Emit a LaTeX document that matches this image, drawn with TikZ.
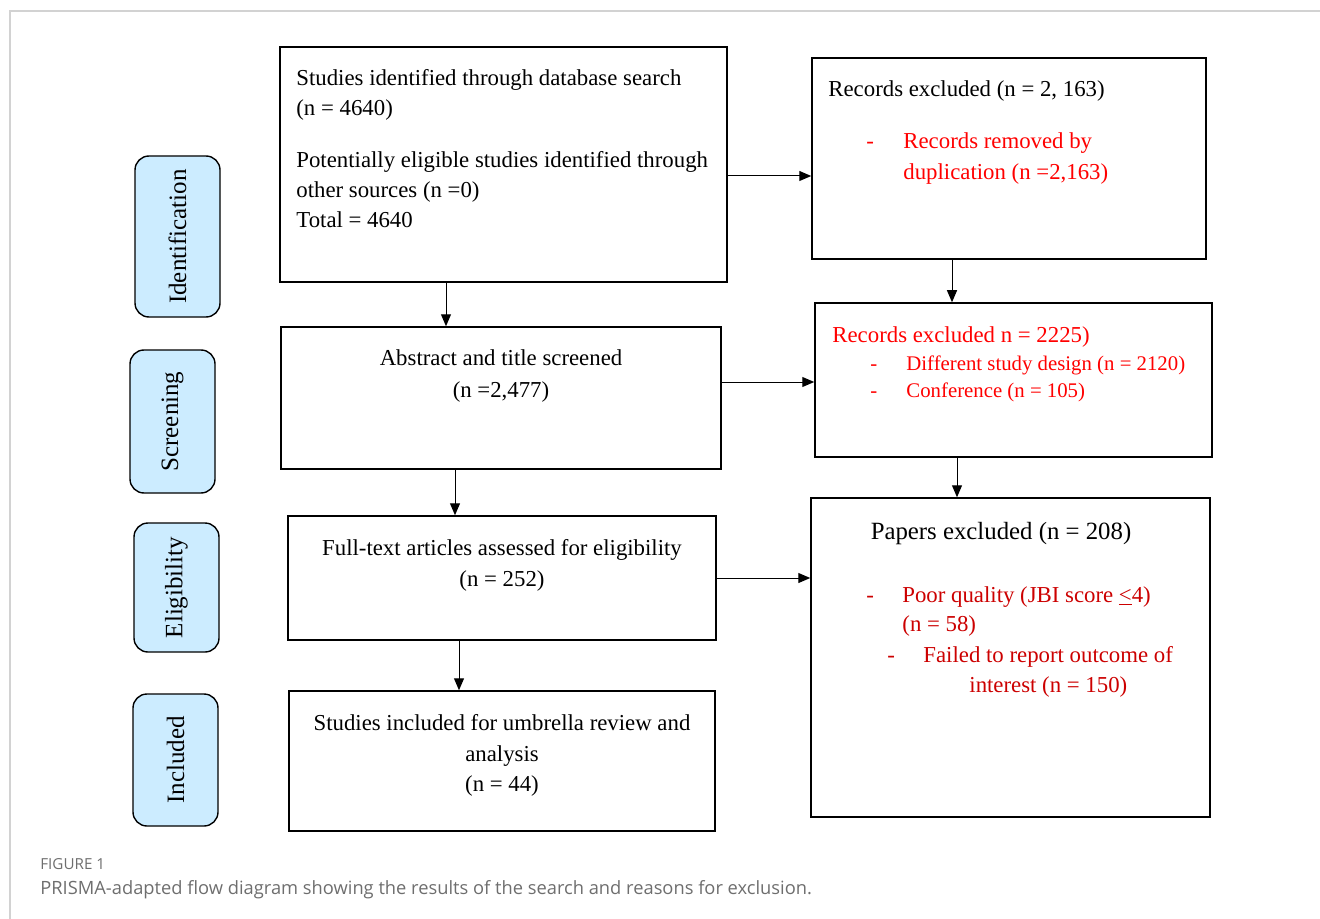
\documentclass[tikz,border=0pt]{standalone}
\usepackage{fontspec}
\setmainfont{Liberation Serif}
\newfontfamily\capfont{Open Sans}
\usetikzlibrary{arrows.meta,fit}
\definecolor{sidefill}{RGB}{204,236,255}
\definecolor{redA}{RGB}{255,0,0}
\definecolor{redB}{RGB}{204,0,0}
\definecolor{framegray}{RGB}{210,210,210}
\definecolor{capgray}{RGB}{110,110,110}
\begin{document}
\begin{tikzpicture}[x=0.5pt,y=-0.5pt,
  box/.style={draw=black,line width=0.75pt,inner sep=0pt},
  side/.style={draw=black,line width=0.7pt,fill=sidefill,rounded corners=7pt,rotate=90,inner sep=0pt,font=\fontsize{12.5}{14}\selectfont},
  txt/.style={inner sep=0pt,anchor=base west,font=\fontsize{11.4}{13}\selectfont},
  ctxt/.style={inner sep=0pt,anchor=base,font=\fontsize{11.4}{13}\selectfont},
  stxt/.style={inner sep=0pt,anchor=base west,font=\fontsize{10.4}{12}\selectfont},
  arr/.style={draw=black,line width=0.5pt,-{Triangle[length=6pt,width=5pt]}}]
\useasboundingbox (0,0) rectangle (1320,919);
% frame
\draw[framegray,line width=0.6pt] (10,930) -- (10,11) -- (1330,11);
% side labels
\node[side,minimum width=80.5pt,minimum height=42.5pt] (sid) at (177.5,236.5) {Identification};
\node[side,minimum width=71.5pt,minimum height=42.5pt] (ssc) at (172.5,421.5) {Screening};
\node[side,minimum width=64.5pt,minimum height=42.5pt] (sel) at (176.5,587.5) {Eligibility};
\node[side,minimum width=66pt,minimum height=42.5pt] (sin) at (175.5,760) {Included};
% boxes
\node[box,fit={(280,47) (727,282)}] (A) {};
\node[box,fit={(812,58) (1206,259)}] (B) {};
\node[box,fit={(281,327) (721,469)}] (C) {};
\node[box,fit={(815,303) (1212,457)}] (D) {};
\node[box,fit={(288,516) (716,640)}] (E) {};
\node[box,fit={(811,498) (1210,817)}] (F) {};
\node[box,fit={(289,691) (715,831)}] (G) {};
% box A text
\node[txt] (a1) at (296,86) {Studies identified through database search};
\node[txt] (a2) at (296,116) {(n = 4640)};
\node[txt] (a3) at (296,168) {Potentially eligible studies identified through};
\node[txt] (a4) at (296,198) {other sources (n =0)};
\node[txt] (a5) at (296,228) {Total = 4640};
% box B text
\node[txt] (b1) at (828,97) {Records excluded (n = 2, 163)};
\node[txt,text=redA] (b2) at (866,149) {-};
\node[txt,text=redA] (b3) at (903,149) {Records removed by};
\node[txt,text=redA] (b4) at (903,180) {duplication (n =2,163)};
% box C text
\node[ctxt] (c1) at (501,365) {Abstract and title screened};
\node[ctxt] (c2) at (501,397) {(n =2,477)};
% box D text
\node[txt,text=redA] (d1) at (832,343) {Records excluded n = 2225)};
\node[stxt,text=redA] (d2) at (870,370) {-};
\node[stxt,text=redA] (d3) at (906,370) {Different study design (n = 2120)};
\node[stxt,text=redA] (d4) at (870,397) {-};
\node[stxt,text=redA] (d5) at (906,397) {Conference (n = 105)};
% box E text
\node[ctxt] (e1) at (502,555) {Full-text articles assessed for eligibility};
\node[ctxt] (e2) at (502,586) {(n = 252)};
% box F text
\node[ctxt,font=\fontsize{12.4}{14}\selectfont] (f1) at (1001,539) {Papers excluded (n = 208)};
\node[txt,text=redB] (f2) at (866,602) {-};
\node[txt,text=redB] (f3) at (902,602) {Poor quality (JBI score \underline{<}4)};
\node[txt,text=redB] (f4) at (902,631) {(n = 58)};
\node[txt,text=redB] (f5) at (887,662) {-};
\node[txt,text=redB] (f6) at (923,662) {Failed to report outcome of};
\node[txt,text=redB] (f7) at (969,692) {interest (n = 150)};
% box G text
\node[ctxt] (g1) at (502,730) {Studies included for umbrella review and};
\node[ctxt] (g2) at (502,761) {analysis};
\node[ctxt] (g3) at (502,791) {(n = 44)};
% arrows
\draw[arr] (A.east |- 0,176) -- (B.west |- 0,176);
\draw[arr] (A.south -| 446,0) -- (C.north -| 446,0);
\draw[arr] (B.south -| 952,0) -- (D.north -| 952,0);
\draw[arr] (C.east |- 0,382) -- (D.west |- 0,382);
\draw[arr] (D.south -| 957,0) -- (F.north -| 957,0);
\draw[arr] (C.south -| 455,0) -- (E.north -| 455,0);
\draw[arr] (E.east |- 0,578) -- (F.west |- 0,578);
\draw[arr] (E.south -| 459,0) -- (G.north -| 459,0);
% caption
\node[inner sep=0pt,anchor=base west,text=capgray,font=\capfont\fontsize{7.6}{9}\selectfont] (cap1) at (40,869) {FIGURE 1};
\node[inner sep=0pt,anchor=base west,text=capgray,font=\capfont\fontsize{9.15}{11}\selectfont] (cap2) at (40,894) {PRISMA-adapted flow diagram showing the results of the search and reasons for exclusion.};
\end{tikzpicture}
\end{document}
